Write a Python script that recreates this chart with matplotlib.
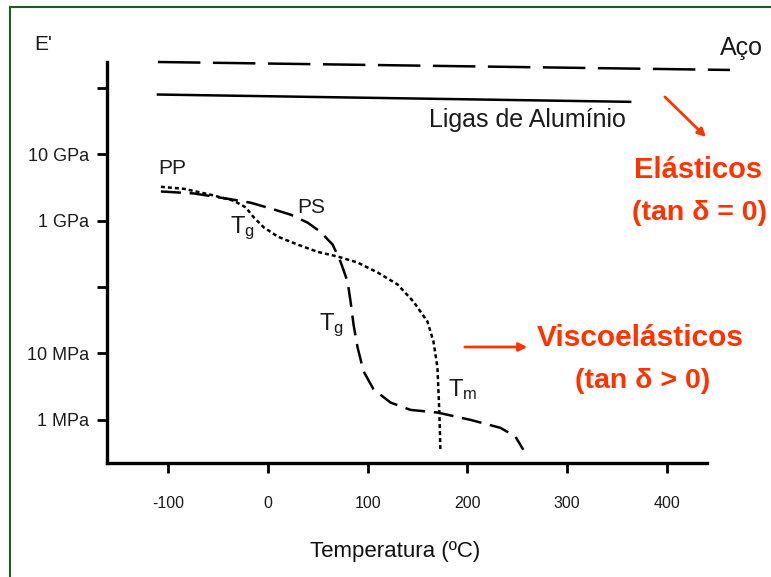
import matplotlib
matplotlib.use("Agg")
import matplotlib.pyplot as plt
from matplotlib.lines import Line2D
from matplotlib.patches import FancyArrowPatch

plt.rcParams['font.family'] = ['Liberation Sans', 'DejaVu Sans']
plt.rcParams['mathtext.fontset'] = 'custom'
plt.rcParams['mathtext.rm'] = 'Liberation Sans'

# temperature (C) and log10 of modulus (Pa)
pp_temp = [-107, -84, -57, -34, -22, -14, -4, 10, 30, 50, 70, 90, 110, 130, 146,
           160, 166, 170, 171, 172, 173]
pp_logE = [9.51, 9.48, 9.39, 9.30, 9.20, 9.05, 8.90, 8.76, 8.64, 8.53, 8.46, 8.37,
           8.22, 8.04, 7.78, 7.48, 7.18, 6.79, 6.43, 6.08, 5.52]

ps_temp = [-107, -74, -40, -17, 6, 23, 40, 53, 65, 73, 80, 83, 86, 90, 96, 106,
           123, 143, 170, 203, 233, 248, 256]
ps_logE = [9.44, 9.41, 9.33, 9.27, 9.17, 9.09, 8.97, 8.83, 8.64, 8.38, 8.08, 7.78,
           7.43, 7.09, 6.73, 6.46, 6.26, 6.15, 6.11, 6.00, 5.88, 5.75, 5.55]

aco_temp = [-110, 463]
aco_logE = [11.39, 11.27]

alu_temp = [-110, 363]
alu_logE = [10.90, 10.79]

x_ticks = [-100, 0, 100, 200, 300, 400]
y_ticks = [1e6, 1e7, 1e8, 1e9, 1e10, 1e11]
y_labels = ['1 MPa', '10 MPa', '', '1 GPa', '10 GPa', '']

W, H = 771, 577
fig = plt.figure(figsize=(W / 100, H / 100), dpi=100)
ax = fig.add_axes([107 / W, 1 - 463 / H, 600 / W, 401 / H])


def px(x, y):
    return x / W, 1 - y / H


def pa(vals):
    return [10 ** v for v in vals]


ink = '#1a1a1a'
ax.plot(aco_temp, pa(aco_logE), color='black', lw=1.8, dashes=(17, 5), clip_on=False)
ax.plot(alu_temp, pa(alu_logE), color='black', lw=1.8, clip_on=False)
ax.plot(pp_temp, pa(pp_logE), color='black', lw=1.8, dashes=(1.6, 1.2))
ax.plot(ps_temp, pa(ps_logE), color='black', lw=1.8, dashes=(8, 3.5))

ax.set_yscale('log')
ax.set_xlim(-161, 440)
ax.set_ylim(10**5.35, 10**11.39)
ax.set_xticks(x_ticks)
ax.set_xticklabels([str(t) for t in x_ticks])
ax.set_yticks(y_ticks)
ax.set_yticklabels(y_labels)
ax.minorticks_off()

for s in ['top', 'right']:
    ax.spines[s].set_visible(False)
for s in ['left', 'bottom']:
    ax.spines[s].set_linewidth(2.4)
ax.tick_params(axis='both', length=7, width=2, color='black')
ax.tick_params(axis='x', pad=17, labelsize=11.5, labelcolor=ink)
ax.tick_params(axis='y', pad=6, labelsize=13, labelcolor=ink)

# curve labels
ax.text(-96, 10**9.78, 'PP', fontsize=15, ha='center', va='center', color=ink)
ax.text(44, 10**9.20, 'PS', fontsize=15, ha='center', va='center', color=ink)
ax.text(-25, 10**8.88, r'$\mathregular{T_g}$', fontsize=17, ha='center', va='center', color=ink)
ax.text(64, 10**7.42, r'$\mathregular{T_g}$', fontsize=17, ha='center', va='center', color=ink)
ax.text(195, 10**6.45, r'$\mathregular{T_m}$', fontsize=17, ha='center', va='center', color=ink)

fig.text(*px(43, 45), "E'", fontsize=15, ha='center', va='center', color=ink)
fig.text(*px(741, 48), 'Aço', fontsize=18, ha='center', va='center', color=ink)
fig.text(*px(527, 120), 'Ligas de Alumínio', fontsize=18, ha='center', va='center', color=ink)
fig.text(*px(395, 552), 'Temperatura (ºC)', fontsize=16, ha='center', va='center', color='#111111')

red = '#FF3300'
fig.text(*px(698, 170), 'Elásticos', fontsize=21, fontweight='bold', ha='center', va='center', color=red)
fig.text(*px(700, 213), '(tan δ = 0)', fontsize=20.5, fontweight='bold', ha='center', va='center', color=red)
fig.text(*px(640, 338), 'Viscoelásticos', fontsize=21.5, fontweight='bold', ha='center', va='center', color=red)
fig.text(*px(643, 381), '(tan δ > 0)', fontsize=20.5, fontweight='bold', ha='center', va='center', color=red)

arrow = dict(arrowstyle='-|>', color=red, lw=2, mutation_scale=12, transform=fig.transFigure)
fig.add_artist(FancyArrowPatch(px(663, 95), px(708, 139), **arrow))
fig.add_artist(FancyArrowPatch(px(462, 347), px(530, 347), **arrow))

# thin green frame of the slide
green = '#1f5a1f'
fig.add_artist(Line2D([10 / W, 10 / W], [0, 1 - 7 / H], color=green, lw=1.5, transform=fig.transFigure))
fig.add_artist(Line2D([10 / W, 1], [1 - 7 / H, 1 - 7 / H], color=green, lw=1.5, transform=fig.transFigure))

fig.savefig('out.png', dpi=100)
